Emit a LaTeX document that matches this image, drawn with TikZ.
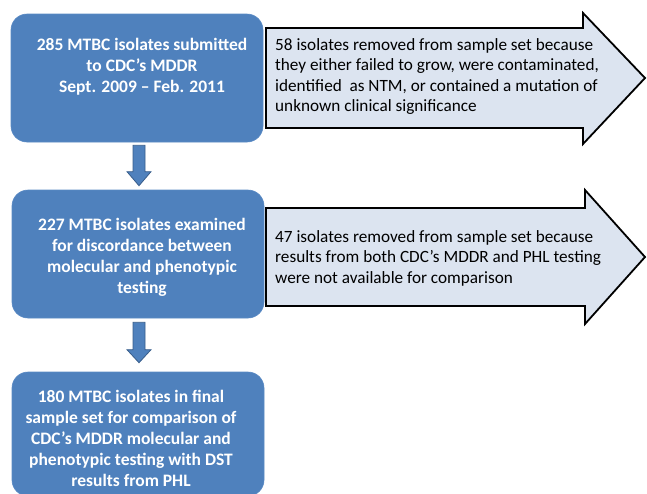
\documentclass[tikz,border=0pt]{standalone}
\usepackage{fontspec}
\setmainfont{Carlito}
\usetikzlibrary{calc}
\definecolor{boxblue}{HTML}{4F81BD}
\definecolor{boxedge}{HTML}{5A8AC4}
\definecolor{arrfill}{HTML}{DCE4F0}
\definecolor{darkedge}{HTML}{385D8A}
\tikzset{
  bluebox/.style={rectangle, rounded corners=16pt, fill=boxblue, draw=boxedge, line width=0.6pt, inner sep=0pt},
  boxtext/.style={align=center, text=white, font=\fontsize{17.5}{21}\selectfont\bfseries, inner sep=0pt},
  arrtext/.style={align=left, text=black, font=\fontsize{17.2}{20.5}\selectfont, inner sep=0pt, anchor=west},
  blockarrow/.style={fill=arrfill, draw=black, line width=1.8pt, line join=miter},
  downarrow/.style={fill=boxblue, draw=darkedge, line width=0.8pt, line join=miter}
}
\begin{document}
\begin{tikzpicture}[x=1pt,y=-1pt]
\useasboundingbox (0,0) rectangle (647,493);
\clip (0,0) rectangle (647,493);

% block arrows (right)
\draw[blockarrow] (266,28) -- (583,28) -- (583,13) -- (645,78) -- (583,144) -- (583,128) -- (266,128) -- cycle;
\draw[blockarrow] (266,208) -- (585,208) -- (585,190) -- (645,257) -- (585,324) -- (585,306) -- (266,306) -- cycle;

% blue boxes
\node[bluebox, minimum width=252pt, minimum height=128pt] (b1) at (137,78) {};
\node[bluebox, minimum width=252pt, minimum height=128pt] (b2) at (138,254) {};
\node[bluebox, minimum width=252pt, minimum height=124pt] (b3) at (138,434) {};

\node[boxtext] (t1) at (142,67) {285 MTBC isolates submitted\\to CDC’s MDDR\\ Sept. 2009 – Feb. 2011};
\node[boxtext] (t2) at (142,257) {227 MTBC isolates examined\\for discordance between\\molecular and phenotypic\\testing};
\node[boxtext] (t3) at (131,438) {180 MTBC isolates in final\\sample set for comparison of\\CDC’s MDDR molecular and\\phenotypic testing with DST\\results from PHL};

\node[arrtext] (a1) at (275,76.5) {58 isolates removed from sample set because\\they either failed to grow, were contaminated,\\identified\ \ as NTM, or contained a mutation of\\unknown clinical significance};
\node[arrtext] (a2) at (275,258) {47 isolates removed from sample set because\\results from both CDC’s MDDR and PHL testing\\were not available for comparison};

% down arrows between boxes
\coordinate (d1s) at ($(b1.south)+(2,3)$);
\coordinate (d1e) at ($(b2.north)+(1,-4)$);
\draw[downarrow] ($(d1s)+(-6,0)$) -- ($(d1s)+(6,0)$) -- ($(d1e)+(6,-14)$) -- ($(d1e)+(12,-14)$) -- (d1e) -- ($(d1e)+(-12,-14)$) -- ($(d1e)+(-6,-14)$) -- cycle;
\coordinate (d2s) at ($(b2.south)+(1,4)$);
\coordinate (d2e) at ($(b3.north)+(1,-9)$);
\draw[downarrow] ($(d2s)+(-6,0)$) -- ($(d2s)+(6,0)$) -- ($(d2e)+(6,-13)$) -- ($(d2e)+(12,-13)$) -- (d2e) -- ($(d2e)+(-12,-13)$) -- ($(d2e)+(-6,-13)$) -- cycle;
\end{tikzpicture}
\end{document}
